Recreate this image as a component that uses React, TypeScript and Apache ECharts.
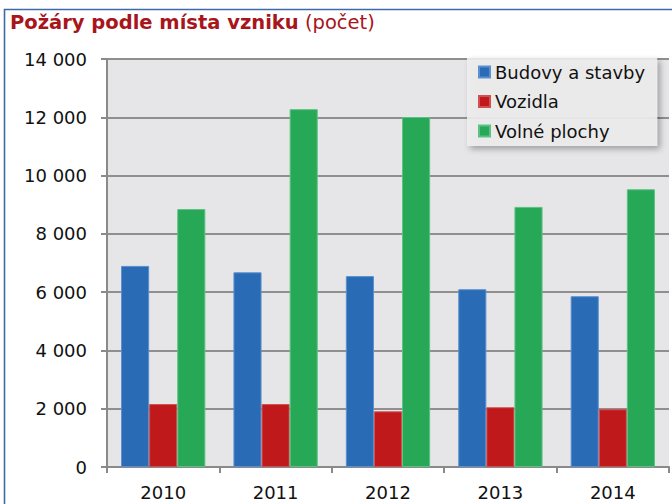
import React, { useEffect, useRef } from "react";
import * as echarts from "echarts";

const years = ["2010", "2011", "2012", "2013", "2014"];
const budovy = [6900, 6680, 6550, 6100, 5860];
const vozidla = [2160, 2160, 1910, 2050, 1980];
const volne = [8850, 12280, 12010, 8925, 9530];
const seriesNames = ["Budovy a stavby", "Vozidla", "Volné plochy"];
const titleMain = "Požáry podle místa vzniku";
const titleUnit = "(počet)";

const FONT = "DejaVu Sans";

export default function App() {
  const ref = useRef<HTMLDivElement>(null);
  useEffect(() => {
    if (!ref.current) return;
    const chart = echarts.init(ref.current, null, { renderer: "svg" });
    const mk = (name: string, data: number[], color: string, border: string) => ({
      name,
      type: "bar",
      data,
      barGap: "0%",
      barCategoryGap: "25%",
      itemStyle: { color, borderColor: border, borderWidth: 1 },
    });
    chart.setOption({
      animation: false,
      backgroundColor: "#ffffff",
      textStyle: { fontFamily: FONT },
      title: {
        text: `{a|${titleMain}} {b|${titleUnit}}`,
        left: 10,
        top: 12,
        padding: 0,
        textStyle: {
          rich: {
            a: { fontFamily: FONT, fontSize: 19.5, fontWeight: "bold", color: "#a8151b" },
            b: { fontFamily: FONT, fontSize: 19.5, fontWeight: "normal", color: "#a8151b" },
          },
        },
      },
      graphic: [
        {
          type: "rect",
          z: -1,
          shape: { x: 4.5, y: 9.5, width: 720, height: 620 },
          style: { fill: "none", stroke: "#3f6aa6", lineWidth: 1.6 },
        },
      ],
      legend: {
        orient: "vertical",
        left: 467,
        top: 58,
        data: seriesNames,
        icon: "rect",
        itemWidth: 11,
        itemHeight: 11,
        itemGap: 11.5,
        itemTextGap: 6,
        padding: [5, 12, 6, 11],
        backgroundColor: "rgba(238,238,238,0.9)",
        shadowBlur: 6,
        shadowColor: "rgba(0,0,0,0.35)",
        shadowOffsetX: 3,
        shadowOffsetY: 3,
        textStyle: { fontFamily: FONT, fontSize: 18, color: "#111111" },
      },
      grid: {
        left: 107,
        right: 3,
        top: 59,
        bottom: 37,
        show: true,
        backgroundColor: "#e6e6e8",
        borderWidth: 0,
      },
      xAxis: {
        type: "category",
        data: years,
        axisLine: { lineStyle: { color: "#8a8a8a", width: 2 } },
        axisTick: { show: true, length: 6, lineStyle: { color: "#8a8a8a", width: 2 } },
        axisLabel: { color: "#111111", fontSize: 18, fontFamily: FONT, margin: 16 },
      },
      yAxis: {
        type: "value",
        min: 0,
        max: 14000,
        interval: 2000,
        axisLine: { show: true, lineStyle: { color: "#8a8a8a", width: 2 } },
        axisTick: { show: true, length: 6, lineStyle: { color: "#8a8a8a", width: 2 } },
        splitLine: { show: true, lineStyle: { color: "#8f8f8f", width: 2 } },
        axisLabel: {
          color: "#111111",
          fontSize: 18,
          fontFamily: FONT,
          margin: 20,
          formatter: (v: number) => (v === 0 ? "0" : `${Math.round(v / 1000)} 000`),
        },
      },
      series: [
        mk(seriesNames[0], budovy, "#2a6bb5", "#5b8fd0"),
        mk(seriesNames[1], vozidla, "#c0191b", "#d0504f"),
        mk(seriesNames[2], volne, "#27a857", "#5cc283"),
      ],
    });
    return () => chart.dispose();
  }, []);
  return (
    <div
      ref={ref}
      style={{ position: "fixed", left: 0, top: 0, width: 672, height: 504 }}
    />
  );
}
